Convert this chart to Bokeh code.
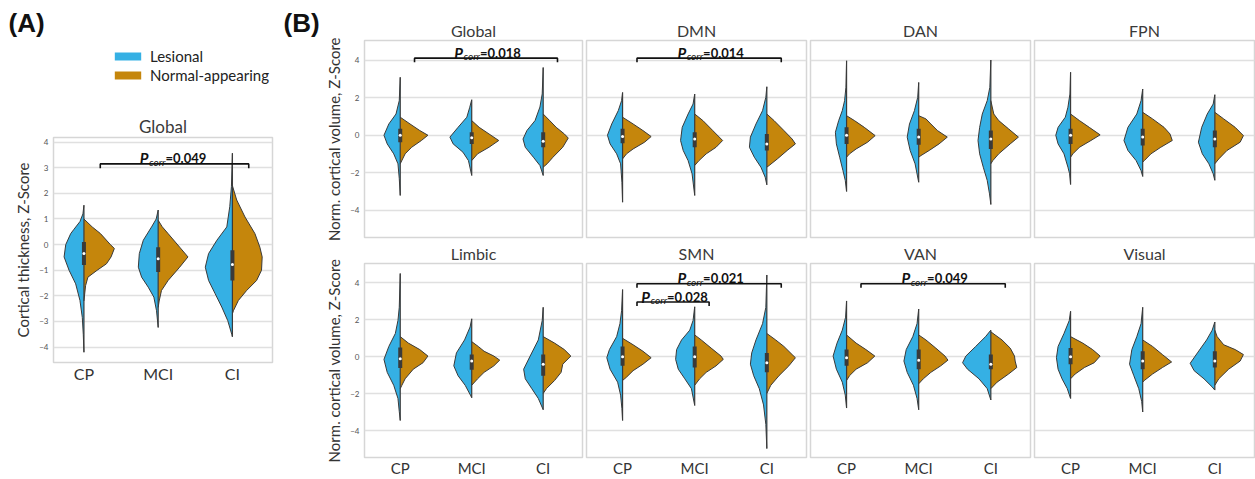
from bokeh.plotting import figure
from bokeh.layouts import row, column
from bokeh.models import Range1d, FixedTicker, Legend, LegendItem, Title
from bokeh.core.properties import value
from bokeh.embed import file_html
from bokeh.resources import INLINE

# ---------------- data ----------------
CATEGORIES = ["CP", "MCI", "CI"]
SERIES = ["Lesional", "Normal-appearing"]
COLORS = ["#35b0e4", "#c5860c"]
PANEL_LABELS = ["(A)", "(B)"]

# each half-violin: list of (Z-score, relative density)
# Panel A : cortical thickness, Global
A_TITLE = "Global"
A_YLABEL = "Cortical thickness, Z-Score"
A_YTICKS = [-4, -3, -2, -1, 0, 1, 2, 3, 4]
A_LES = [
    [(1.54, 0), (1.2, 3), (0.9, 12), (0.6, 30), (0.43, 40), (0.0, 55), (-0.48, 60), (-1.0, 45), (-1.53, 25), (-2.18, 12), (-2.84, 5), (-3.5, 2), (-4.2, 0)],
    [(1.35, 0), (1.0, 6), (0.69, 20), (0.17, 45), (-0.35, 57), (-0.88, 60), (-1.27, 50), (-1.66, 30), (-2.05, 13), (-2.58, 5), (-3.23, 0)],
    [(3.57, 0), (2.26, 3), (1.48, 8), (0.69, 17), (0.17, 47), (-0.35, 72), (-0.88, 82), (-1.4, 72), (-1.92, 52), (-2.44, 32), (-2.97, 14), (-3.5, 2), (-3.6, 0)],
]
A_NORM = [
    [(1.0, 0), (0.69, 25), (0.43, 50), (0.0, 80), (-0.15, 92), (-0.48, 82), (-0.75, 68), (-1.0, 40), (-1.27, 12), (-1.6, 5), (-2.2, 0)],
    [(0.95, 0), (0.7, 12), (0.43, 30), (-0.1, 65), (-0.48, 90), (-0.88, 65), (-1.4, 30), (-1.79, 10), (-2.2, 3), (-2.45, 0)],
    [(2.3, 0), (1.74, 13), (1.08, 38), (0.43, 68), (-0.1, 83), (-0.48, 90), (-1.0, 88), (-1.4, 73), (-1.79, 43), (-2.18, 18), (-2.58, 3), (-2.7, 0)],
]
A_BOX = [(-0.8, -0.35, 0.1), (-1.07, -0.55, -0.1), (-1.4, -0.78, -0.22)]  # q1, median, q3
A_BRACKETS = [(0, 2, 3.15, "0.049")]

# Panel B : normalised cortical volume per network
B_YLABEL = "Norm. cortical volume, Z-Score"
B_YTICKS = [-4, -2, 0, 2, 4]
B_TITLES = ["Global", "DMN", "DAN", "FPN", "Limbic", "SMN", "VAN", "Visual"]

GLOBAL_LES = [
    [(3.08, 0), (1.84, 3), (1.13, 13), (0.6, 35), (0.0, 50), (-0.46, 40), (-0.99, 20), (-1.52, 7), (-2.3, 3), (-3.2, 0)],
    [(1.89, 0), (1.49, 6), (0.96, 15), (0.42, 42), (-0.1, 67), (-0.46, 57), (-0.9, 27), (-1.35, 10), (-2.14, 0)],
    [(3.6, 0), (2.2, 3), (1.5, 10), (0.78, 25), (0.25, 50), (-0.2, 62), (-0.64, 55), (-1.17, 30), (-1.61, 10), (-2.14, 0)],
]
GLOBAL_NORM = [
    [(0.96, 0), (0.6, 30), (0.25, 60), (0.0, 85), (-0.28, 65), (-0.64, 35), (-0.99, 15), (-1.52, 0)],
    [(0.78, 0), (0.42, 23), (0.07, 53), (-0.28, 83), (-0.64, 53), (-0.99, 18), (-1.35, 0)],
    [(1.13, 0), (0.78, 20), (0.42, 40), (0.07, 65), (-0.15, 77), (-0.64, 60), (-1.17, 30), (-1.52, 12), (-1.7, 0)],
]
GLOBAL_BOX = [(-0.37, 0.0, 0.34), (-0.46, -0.14, 0.16), (-0.64, -0.32, 0.16)]
GLOBAL_BRACKETS = [(0, 2, 4.1, "0.018")]

DMN_LES = [
    [(2.28, 0), (1.84, 3), (1.31, 13), (0.6, 33), (0.0, 46), (-0.46, 38), (-0.99, 18), (-1.52, 6), (-2.5, 2), (-3.56, 0)],
    [(2.19, 0), (1.66, 5), (1.13, 20), (0.42, 38), (-0.28, 43), (-0.81, 35), (-1.35, 20), (-2.05, 8), (-3.2, 0)],
    [(2.58, 0), (2.02, 3), (1.31, 13), (0.6, 33), (-0.1, 50), (-0.64, 53), (-1.17, 38), (-1.7, 18), (-2.23, 5), (-2.64, 0)],
]
DMN_NORM = [
    [(0.96, 0), (0.6, 32), (0.25, 62), (-0.07, 87), (-0.37, 67), (-0.73, 32), (-0.99, 12), (-1.26, 0)],
    [(1.13, 0), (0.78, 25), (0.25, 55), (-0.28, 85), (-0.64, 65), (-0.99, 35), (-1.35, 13), (-1.61, 0)],
    [(1.13, 0), (0.78, 22), (0.25, 52), (-0.2, 77), (-0.46, 87), (-0.81, 62), (-1.26, 32), (-1.61, 7), (-1.7, 0)],
]
DMN_BOX = [(-0.42, -0.07, 0.34), (-0.64, -0.2, 0.16), (-0.81, -0.46, 0.07)]
DMN_BRACKETS = [(0, 2, 4.1, "0.014")]

DAN_LES = [
    [(3.96, 0), (2.55, 2), (1.84, 6), (1.31, 13), (0.78, 24), (0.16, 34), (-0.46, 31), (-1.17, 21), (-1.88, 11), (-2.4, 4), (-2.99, 0)],
    [(2.81, 0), (2.02, 3), (1.31, 13), (0.6, 28), (-0.1, 35), (-0.81, 26), (-1.52, 11), (-2.5, 0)],
    [(4.0, 0), (2.55, 3), (1.84, 11), (1.13, 26), (0.42, 34), (-0.28, 39), (-0.99, 34), (-1.7, 23), (-2.4, 11), (-3.12, 4), (-3.68, 0)],
]
DAN_NORM = [
    [(1.04, 0), (0.78, 24), (0.42, 54), (-0.02, 87), (-0.37, 64), (-0.73, 29), (-0.99, 9), (-1.17, 0)],
    [(1.04, 0), (0.87, 22), (0.6, 37), (0.25, 57), (-0.1, 87), (-0.46, 62), (-0.81, 32), (-1.08, 7), (-1.17, 0)],
    [(1.84, 0), (1.13, 9), (0.78, 24), (0.34, 54), (-0.1, 84), (-0.46, 59), (-0.99, 24), (-1.35, 6), (-1.52, 0)],
]
DAN_BOX = [(-0.46, 0.0, 0.42), (-0.5, -0.1, 0.34), (-0.73, -0.2, 0.25)]
DAN_BRACKETS = []

FPN_LES = [
    [(3.35, 0), (2.19, 2), (1.49, 8), (0.96, 16), (0.42, 38), (0.0, 45), (-0.46, 38), (-0.99, 20), (-1.7, 8), (-2.05, 3), (-2.62, 0)],
    [(2.46, 0), (1.84, 5), (1.13, 18), (0.42, 45), (-0.28, 57), (-0.81, 45), (-1.35, 20), (-1.88, 5), (-2.19, 0)],
    [(2.16, 0), (1.66, 5), (1.13, 23), (0.42, 40), (-0.37, 50), (-0.99, 38), (-1.52, 18), (-2.05, 5), (-2.4, 0)],
]
FPN_NORM = [
    [(1.13, 0), (0.78, 27), (0.42, 57), (0.02, 90), (-0.28, 62), (-0.64, 27), (-0.99, 7), (-1.17, 0)],
    [(1.22, 0), (0.87, 30), (0.42, 65), (0.07, 83), (-0.28, 90), (-0.64, 55), (-0.99, 25), (-1.35, 5), (-1.43, 0)],
    [(1.22, 0), (0.87, 27), (0.42, 62), (-0.02, 87), (-0.37, 77), (-0.81, 37), (-1.26, 12), (-1.52, 0)],
]
FPN_BOX = [(-0.46, 0.0, 0.34), (-0.55, -0.1, 0.34), (-0.64, -0.2, 0.25)]
FPN_BRACKETS = []

LIMBIC_LES = [
    [(4.5, 0), (2.67, 3), (1.96, 7), (1.26, 15), (0.56, 35), (-0.14, 50), (-0.84, 40), (-1.54, 20), (-2.25, 7), (-2.95, 3), (-3.44, 0)],
    [(2.05, 0), (1.61, 5), (0.91, 22), (0.21, 47), (-0.49, 55), (-1.02, 42), (-1.54, 20), (-2.07, 4), (-2.21, 0)],
    [(2.67, 0), (1.96, 3), (0.91, 15), (0.04, 40), (-0.67, 60), (-1.19, 55), (-1.72, 35), (-2.25, 15), (-2.86, 0)],
]
LIMBIC_NORM = [
    [(1.09, 0), (0.74, 25), (0.39, 60), (0.04, 85), (-0.32, 70), (-0.67, 40), (-1.19, 15), (-1.54, 5), (-1.72, 0)],
    [(0.82, 0), (0.56, 20), (0.3, 38), (0.04, 68), (-0.18, 86), (-0.49, 68), (-0.84, 38), (-1.19, 18), (-1.54, 0)],
    [(1.09, 0), (0.74, 35), (0.39, 65), (0.04, 85), (-0.4, 60), (-0.84, 55), (-1.28, 35), (-1.72, 10), (-1.98, 0)],
]
LIMBIC_BOX = [(-0.6, -0.1, 0.5), (-0.7, -0.23, 0.12), (-1.02, -0.4, 0.12)]
LIMBIC_BRACKETS = []

SMN_LES = [
    [(3.63, 0), (2.49, 3), (1.79, 8), (1.09, 18), (0.39, 40), (-0.05, 48), (-0.67, 38), (-1.37, 15), (-2.07, 6), (-2.8, 2), (-3.44, 0)],
    [(2.7, 0), (1.96, 5), (1.44, 15), (0.91, 40), (0.39, 55), (-0.14, 58), (-0.67, 50), (-1.19, 30), (-1.72, 10), (-2.63, 0)],
    [(4.42, 0), (2.67, 3), (1.79, 13), (0.91, 33), (0.21, 46), (-0.4, 50), (-1.02, 40), (-1.72, 23), (-2.6, 10), (-3.65, 3), (-4.96, 0)],
]
SMN_NORM = [
    [(1.0, 0), (0.65, 32), (0.3, 62), (-0.05, 87), (-0.4, 62), (-0.75, 32), (-1.1, 12), (-1.28, 0)],
    [(1.18, 0), (0.91, 20), (0.47, 50), (0.04, 80), (-0.14, 87), (-0.49, 65), (-0.84, 35), (-1.19, 15), (-1.54, 0)],
    [(1.26, 0), (0.91, 27), (0.56, 52), (0.12, 77), (-0.05, 87), (-0.49, 67), (-1.02, 37), (-1.54, 12), (-1.98, 0)],
]
SMN_BOX = [(-0.49, 0.0, 0.56), (-0.58, 0.0, 0.56), (-0.84, -0.32, 0.21)]
SMN_BRACKETS = [(0, 2, 3.95, "0.021"), (0, 1, 2.96, "0.028")]

VAN_LES = [
    [(3.02, 0), (2.14, 3), (1.44, 13), (0.74, 29), (0.04, 41), (-0.67, 31), (-1.37, 13), (-2.07, 4), (-2.77, 0)],
    [(2.58, 0), (1.79, 5), (1.09, 18), (0.39, 38), (-0.23, 45), (-0.84, 35), (-1.54, 16), (-2.25, 5), (-2.86, 0)],
    [(1.44, 0), (1.09, 16), (0.56, 46), (0.04, 76), (-0.32, 86), (-0.67, 71), (-1.19, 36), (-1.72, 11), (-2.33, 0)],
]
VAN_NORM = [
    [(1.18, 0), (0.74, 29), (0.39, 59), (0.04, 86), (-0.32, 64), (-0.67, 29), (-1.02, 9), (-1.28, 0)],
    [(1.18, 0), (0.91, 22), (0.47, 52), (0.04, 80), (-0.18, 89), (-0.49, 67), (-0.84, 37), (-1.19, 14), (-1.46, 0)],
    [(1.35, 0), (0.91, 34), (0.47, 59), (0.04, 72), (-0.23, 74), (-0.58, 79), (-0.93, 54), (-1.37, 19), (-1.72, 0)],
]
VAN_BOX = [(-0.49, -0.05, 0.39), (-0.67, -0.18, 0.39), (-0.67, -0.4, 0.12)]
VAN_BRACKETS = [(0, 2, 3.95, "0.049")]

VISUAL_LES = [
    [(2.46, 0), (1.96, 4), (1.26, 20), (0.56, 38), (-0.05, 43), (-0.67, 38), (-1.19, 26), (-1.72, 10), (-2.25, 0)],
    [(2.67, 0), (1.79, 5), (1.09, 18), (0.39, 33), (-0.4, 40), (-1.02, 27), (-1.72, 12), (-2.42, 3), (-2.98, 0)],
    [(1.88, 0), (1.44, 8), (0.91, 25), (0.21, 53), (-0.35, 75), (-0.75, 63), (-1.19, 33), (-1.63, 8), (-1.8, 0)],
]
VISUAL_NORM = [
    [(1.09, 0), (0.74, 37), (0.39, 67), (0.04, 90), (-0.32, 72), (-0.58, 42), (-0.93, 14), (-1.19, 0)],
    [(0.91, 0), (0.56, 30), (0.12, 60), (-0.28, 88), (-0.58, 60), (-0.93, 30), (-1.28, 5), (-1.37, 0)],
    [(1.44, 0), (1.09, 7), (0.65, 27), (0.39, 62), (0.12, 87), (-0.23, 77), (-0.67, 42), (-1.19, 12), (-1.54, 0)],
]
VISUAL_BOX = [(-0.4, 0.0, 0.47), (-0.67, -0.23, 0.3), (-0.58, -0.23, 0.3)]
VISUAL_BRACKETS = []

B_PANELS = [
    (GLOBAL_LES, GLOBAL_NORM, GLOBAL_BOX, GLOBAL_BRACKETS),
    (DMN_LES, DMN_NORM, DMN_BOX, DMN_BRACKETS),
    (DAN_LES, DAN_NORM, DAN_BOX, DAN_BRACKETS),
    (FPN_LES, FPN_NORM, FPN_BOX, FPN_BRACKETS),
    (LIMBIC_LES, LIMBIC_NORM, LIMBIC_BOX, LIMBIC_BRACKETS),
    (SMN_LES, SMN_NORM, SMN_BOX, SMN_BRACKETS),
    (VAN_LES, VAN_NORM, VAN_BOX, VAN_BRACKETS),
    (VISUAL_LES, VISUAL_NORM, VISUAL_BOX, VISUAL_BRACKETS),
]

# ---------------- style ----------------
FONT = "Lato"
OUTLINE = "#3a3a3a"
HALF_MAX = 0.41
NAN = float("nan")


def minus(v):
    return str(v).replace("-", "\u2212")


def make_fig(width, height, xr, yr, bl, br, bt, bb, yticks, title, title_size):
    p = figure(width=width, height=height, x_range=Range1d(*xr), y_range=Range1d(*yr),
               output_backend="svg", toolbar_location=None, title=None,
               min_border_left=bl, min_border_right=br, min_border_top=bt, min_border_bottom=bb)
    p.frame_align = False
    p.add_layout(Title(text=title, align="center", text_font=FONT, text_font_size=title_size,
                       text_font_style="normal", text_color="#3a3a3a", standoff=1), "above")
    p.background_fill_color = "white"
    p.border_fill_color = "white"
    p.outline_line_color = "#d6d6d6"
    p.outline_line_width = 1.5
    p.xgrid.visible = False
    p.ygrid.ticker = FixedTicker(ticks=yticks)
    p.ygrid.grid_line_color = "#e0e0e0"
    p.ygrid.grid_line_width = 1.5
    xa = p.xaxis[0]
    ya = p.yaxis[0]
    xa.ticker = FixedTicker(ticks=list(range(len(CATEGORIES))))
    xa.major_label_overrides = {i: c for i, c in enumerate(CATEGORIES)}
    ya.ticker = FixedTicker(ticks=yticks)
    ya.major_label_overrides = {t: minus(t) for t in yticks}
    for ax in (xa, ya):
        ax.axis_line_color = None
        ax.major_tick_line_color = None
        ax.minor_tick_line_color = None
        ax.major_tick_out = 0
        ax.major_tick_in = 0
        ax.major_label_text_font = FONT
        ax.axis_label_text_font = FONT
        ax.axis_label_text_font_style = "normal"
        ax.axis_label_text_color = "#333333"
    xa.major_label_text_color = "#333333"
    ya.major_label_text_color = "#555555"
    ya.major_label_text_font_size = "8px"
    ya.major_label_standoff = 5
    ya.axis_label_standoff = 4
    return p


def draw_violins(p, les, norm, box, dmax):
    fills = []
    for side, halves, color in ((-1, les, COLORS[0]), (1, norm, COLORS[1])):
        xs, ys = [], []
        for i, pts in enumerate(halves):
            xs.append([i + side * d / dmax * HALF_MAX for y, d in pts])
            ys.append([y for y, d in pts])
        fills.append(p.patches(xs, ys, fill_color=color, line_color=None))
        p.multi_line(xs, ys, line_color=OUTLINE, line_width=1, line_join="round")
    centers = list(range(len(les)))
    lo = [min(min(y for y, _ in a), min(y for y, _ in b)) for a, b in zip(les, norm)]
    hi = [max(max(y for y, _ in a), max(y for y, _ in b)) for a, b in zip(les, norm)]
    p.segment(centers, lo, centers, hi, line_color=OUTLINE, line_width=1.2)
    p.segment(centers, [b[0] for b in box], centers, [b[2] for b in box],
              line_color=OUTLINE, line_width=4)
    p.scatter(centers, [b[1] for b in box], size=3, fill_color="white", line_color=None)
    return fills


def draw_brackets(p, brackets, shift, tick, eq_offset):
    for a, b, y, pv in brackets:
        x1, x2 = a + shift, b + shift
        p.line([x1, x1, x2, x2], [y - tick, y, y, y - tick], line_color="#111111", line_width=1.6)
        xc = (x1 + x2) / 2
        p.text([xc], [y], text=["=" + pv], x_offset=eq_offset, y_offset=-5.5,
               text_font=value(FONT), text_font_style="bold", text_font_size="13px",
               text_align="left", text_baseline="alphabetic", text_color="#111111")
        p.text([xc], [y], text=["corr"], x_offset=eq_offset, y_offset=-2,
               text_font=value(FONT), text_font_style="italic", text_font_size="10px",
               text_align="right", text_baseline="alphabetic", text_color="#111111")
        p.text([xc], [y], text=["P"], x_offset=eq_offset - 17, y_offset=-5.5,
               text_font=value(FONT), text_font_style="bold italic", text_font_size="15px",
               text_align="right", text_baseline="alphabetic", text_color="#111111")


# ---------------- header (panel letters + legend) ----------------
ph = figure(width=322, height=100, x_range=Range1d(0, 322), y_range=Range1d(0, 100),
            output_backend="svg", toolbar_location=None, title=None,
            min_border_left=0, min_border_right=0, min_border_top=0, min_border_bottom=0)
ph.frame_align = False
ph.axis.visible = False
ph.grid.visible = False
ph.outline_line_color = None
ph.text([8, 283], [77.5, 77.5], text=PANEL_LABELS, text_font=value("Liberation Sans"),
        text_font_style="bold", text_font_size="26px", text_align="left",
        text_baseline="middle", text_color="#111111")
# legend-only proxies (no visible mark)
proxies = [ph.quad(left=[NAN], right=[NAN], top=[NAN], bottom=[NAN], fill_color=c, line_color=None)
           for c in COLORS]
legend = Legend(items=[LegendItem(label=s, renderers=[r]) for s, r in zip(SERIES, proxies)],
                location=(111, 16), glyph_width=33, glyph_height=10, label_standoff=6,
                label_text_font=FONT, label_text_font_size="15px", label_text_color="#222222",
                label_height=18, spacing=1, padding=0, margin=0,
                border_line_color=None, background_fill_alpha=0)
ph.add_layout(legend)

# ---------------- panel A ----------------
A_XR = (-0.41, 2.54)
A_YR = (-4.6, 4.18)
pa = make_fig(322, 379, A_XR, A_YR, 53, 50, 37, 117, A_YTICKS, A_TITLE, "17px")
pa.xaxis.major_label_text_font_size = "16px"
pa.xaxis.major_label_standoff = 1
pa.yaxis.axis_label = A_YLABEL
pa.yaxis.axis_label_text_font_size = "15px"
a_dmax = max(d for group in (A_LES, A_NORM) for pts in group for _, d in pts)
draw_violins(pa, A_LES, A_NORM, A_BOX, a_dmax)
draw_brackets(pa, A_BRACKETS, 0.22, 0.17, -9)

# ---------------- panel B ----------------
B_XR = (-0.5, 2.55)
B_YR = (-5.44, 5.04)
B_FRAME_W = 220
B_FRAME_H = 197
b_dmax = max(d for panel in B_PANELS for group in panel[:2] for pts in group for _, d in pts)
rows = []
for r in range(2):
    figs = []
    for c in range(4):
        k = r * 4 + c
        les, norm, box, brackets = B_PANELS[k]
        bl = 40 if c == 0 else 2
        br = 1 if c == 3 else 2
        bt, bb = (40, 4) if r == 0 else (22, 19)
        p = make_fig(bl + B_FRAME_W + br, bt + B_FRAME_H + bb, B_XR, B_YR, bl, br, bt, bb,
                     B_YTICKS, B_TITLES[k], "16px")
        if c == 0:
            p.yaxis.axis_label = B_YLABEL
            p.yaxis.axis_label_text_font_size = "15px"
        else:
            p.yaxis.visible = False
        if r == 0:
            p.xaxis.visible = False
        else:
            p.xaxis.major_label_text_font_size = "15px"
            p.xaxis.major_label_standoff = 1
        draw_violins(p, les, norm, box, b_dmax)
        draw_brackets(p, brackets, 0.2, 0.22, -6)
        figs.append(p)
    rows.append(row(*figs))

layout = row(column(ph, pa), column(*rows))
open("out.html", "w").write(file_html(layout, INLINE))
